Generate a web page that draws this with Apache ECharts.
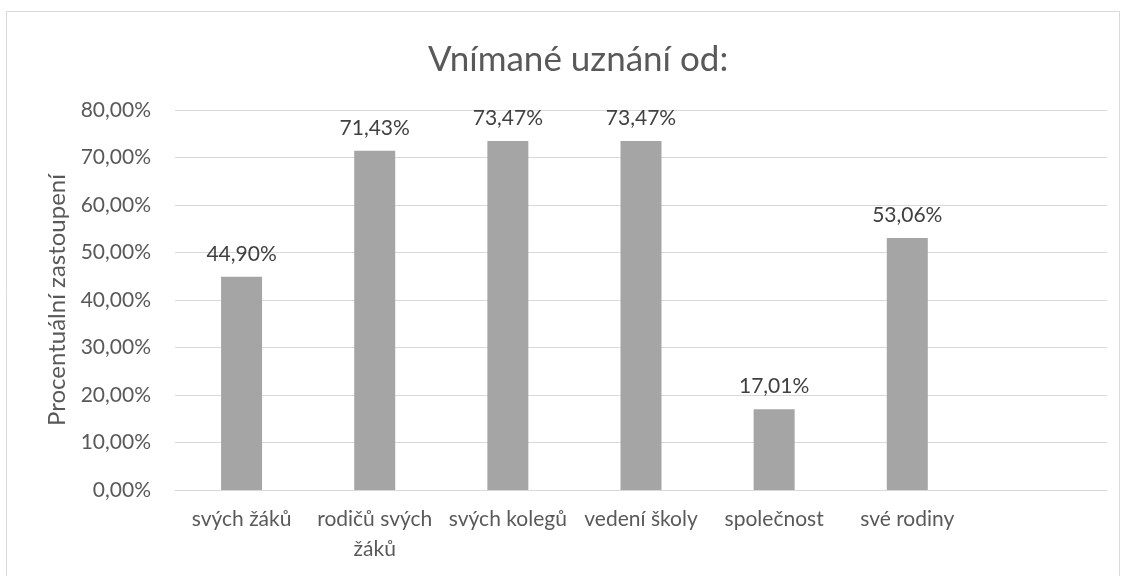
<!DOCTYPE html>
<html>
<head>
<meta charset="utf-8">
<script src="https://cdn.jsdelivr.net/npm/echarts@6/dist/echarts.min.js"></script>
<style>html,body{margin:0;padding:0;background:#fff;}#c{width:1126px;height:576px;}</style>
</head>
<body>
<div id="c"></div>
<script>
const titleText = 'Vnímané uznání od:';
const yAxisName = 'Procentuální zastoupení';
const categories = ['svých žáků', 'rodičů svých žáků', 'svých kolegů', 'vedení školy', 'společnost', 'své rodiny', ''];
const values = [44.90, 71.43, 73.47, 73.47, 17.01, 53.06];
const yTicks = { min: 0, max: 80, interval: 10 };

const FONT = 'Lato';
const fmt = v => v.toFixed(2).replace('.', ',') + '%';
// simple word wrap: max characters per line
function wrap(s, maxChars) {
  const words = s.split(' ');
  const lines = [];
  let cur = '';
  words.forEach(w => {
    const t = cur ? cur + ' ' + w : w;
    if (t.length > maxChars && cur) { lines.push(cur); cur = w; } else { cur = t; }
  });
  if (cur) lines.push(cur);
  return lines.join('\n');
}

const chart = echarts.init(document.getElementById('c'));
chart.setOption({
  animation: false,
  textStyle: { fontFamily: FONT },
  title: {
    text: titleText, left: 423, top: 37,
    textStyle: { fontFamily: FONT, fontSize: 35, fontWeight: 'normal', color: '#595959' }
  },
  graphic: [{
    type: 'rect', shape: { x: 6.5, y: 11.5, width: 1113, height: 600 },
    style: { fill: 'none', stroke: '#d9d9d9', lineWidth: 1 }, silent: true
  }],
  grid: { left: 175, right: 19, top: 110, bottom: 86, outerBoundsMode: 'none', containLabel: false },
  xAxis: {
    type: 'category', data: categories,
    axisLine: { lineStyle: { color: '#d9d9d9', width: 1 } },
    axisTick: { show: false },
    axisLabel: {
      interval: 0, color: '#595959', fontFamily: FONT, fontSize: 21, margin: 14,
      lineHeight: 30, hideOverlap: false, formatter: v => wrap(v, 13)
    }
  },
  yAxis: {
    type: 'value', min: yTicks.min, max: yTicks.max, interval: yTicks.interval,
    name: yAxisName, nameLocation: 'middle', nameGap: 106, nameRotate: 90,
    nameTextStyle: { color: '#595959', fontFamily: FONT, fontSize: 24 },
    axisLine: { show: false }, axisTick: { show: false },
    axisLabel: { color: '#595959', fontFamily: FONT, fontSize: 21, margin: 24, formatter: v => fmt(v) },
    splitLine: { lineStyle: { color: '#d9d9d9', width: 1 } }
  },
  series: [{
    type: 'bar', data: values, barWidth: 41,
    itemStyle: { color: '#a5a5a5' },
    label: { show: true, position: 'top', distance: 12, color: '#404040', fontFamily: FONT, fontSize: 21, formatter: p => fmt(p.value) }
  }]
});
</script>
</body>
</html>
